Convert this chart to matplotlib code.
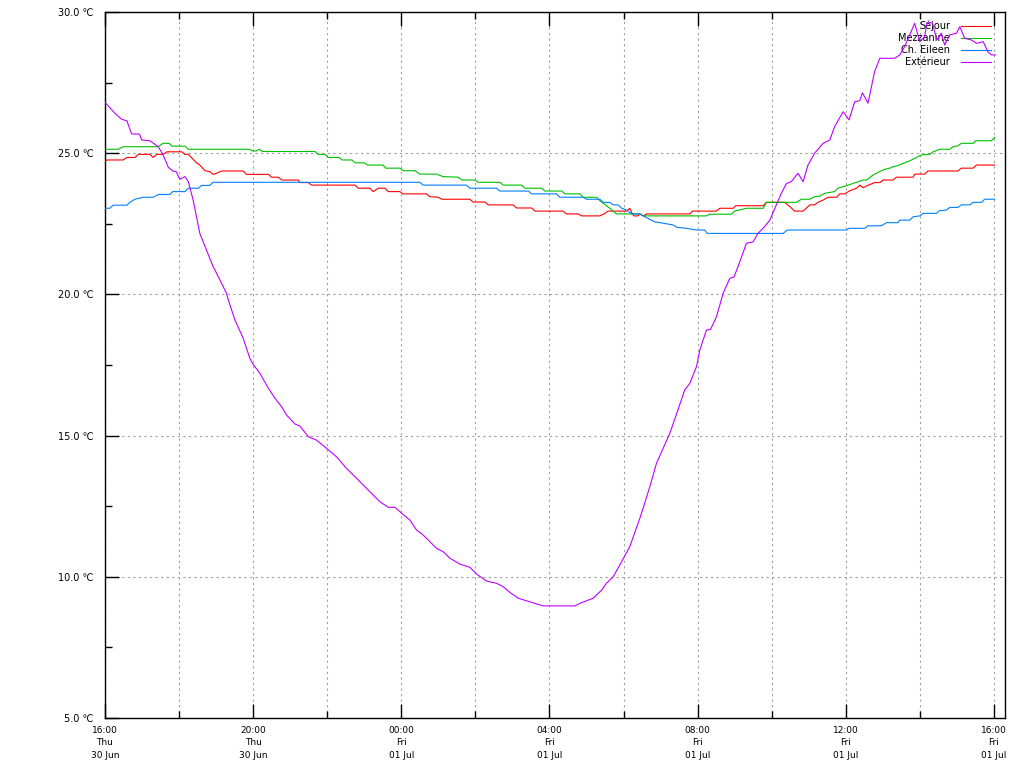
import datetime

import matplotlib
matplotlib.use("Agg")
import matplotlib.dates
import matplotlib.pyplot as plt
import matplotlib.ticker
import numpy as np

start = datetime.datetime(2022, 6, 30, 16, 0)
end = datetime.datetime(2022, 7, 1, 16, 18)

# hours since start, temperature in degC
sejour_h = [0.00, 0.05, 0.49, 0.59, 0.81, 0.90, 1.21, 1.30, 1.40, 1.57, 1.67, 2.07, 2.16, 2.25,
            2.47, 2.56, 2.70, 2.83, 2.92, 3.01, 3.15, 3.73, 3.82, 4.41, 4.50, 4.68, 4.77, 5.22,
            5.26, 5.49, 5.58, 6.75, 6.84, 7.15, 7.24, 7.38, 7.56, 7.65, 7.96, 8.05, 8.68, 8.77,
            9.00, 9.09, 9.85, 9.94, 10.26, 10.35, 11.02, 11.11, 11.52, 11.61, 12.37, 12.46, 12.77,
            12.87, 13.36, 13.50, 13.58, 14.08, 14.17, 14.24, 14.28, 14.39, 14.44, 14.53, 14.62,
            15.79, 15.86, 16.51, 16.60, 16.96, 17.03, 17.77, 17.86, 18.35, 18.49, 18.62, 18.85,
            19.03, 19.16, 19.25, 19.39, 19.52, 19.75, 19.84, 19.97, 20.11, 20.29, 20.38, 20.47,
            20.56, 20.78, 20.92, 21.01, 21.28, 21.37, 21.82, 21.86, 22.13, 22.22, 23.03, 23.12,
            23.44, 23.53, 24.02]
sejour_t = [24.70, 24.76, 24.76, 24.85, 24.85, 24.96, 24.96, 24.85, 24.96, 24.96, 25.05, 25.05,
            24.96, 24.96, 24.66, 24.58, 24.38, 24.35, 24.25, 24.29, 24.37, 24.37, 24.25, 24.25,
            24.15, 24.15, 24.05, 24.05, 23.96, 23.96, 23.87, 23.87, 23.76, 23.76, 23.64, 23.76,
            23.76, 23.64, 23.64, 23.56, 23.56, 23.46, 23.44, 23.37, 23.37, 23.27, 23.27, 23.17,
            23.17, 23.06, 23.06, 22.95, 22.95, 22.85, 22.85, 22.78, 22.78, 22.87, 22.95, 22.95,
            23.05, 22.85, 22.78, 22.78, 22.85, 22.78, 22.85, 22.85, 22.95, 22.95, 23.05, 23.05,
            23.14, 23.14, 23.26, 23.26, 23.11, 22.95, 22.95, 23.17, 23.17, 23.26, 23.34, 23.44,
            23.44, 23.56, 23.56, 23.67, 23.76, 23.87, 23.78, 23.84, 23.96, 23.96, 24.05, 24.05,
            24.15, 24.15, 24.26, 24.26, 24.37, 24.37, 24.47, 24.47, 24.58, 24.58]

mezz_h = [0.00, 0.36, 0.49, 1.43, 1.57, 1.73, 1.81, 2.16, 2.25, 3.89, 3.99, 4.09, 4.16, 4.26,
          5.67, 5.75, 5.94, 6.02, 6.32, 6.40, 6.67, 6.75, 7.00, 7.09, 7.51, 7.58, 7.96, 8.05,
          8.37, 8.50, 8.95, 9.13, 9.54, 9.63, 9.99, 10.08, 10.66, 10.75, 11.25, 11.34, 11.79,
          11.88, 12.33, 12.42, 12.82, 12.91, 13.27, 13.36, 13.45, 13.63, 13.81, 14.44, 14.53,
          16.24, 16.33, 16.91, 17.00, 17.32, 17.77, 17.86, 18.67, 18.80, 19.03, 19.16, 19.30,
          19.43, 19.70, 19.79, 20.02, 20.20, 20.47, 20.56, 20.74, 20.92, 21.05, 21.19, 21.28,
          21.41, 21.55, 21.73, 21.91, 22.04, 22.27, 22.36, 22.54, 22.81, 22.90, 23.03, 23.12,
          23.44, 23.51, 23.93, 24.02]
mezz_t = [25.14, 25.14, 25.23, 25.23, 25.35, 25.35, 25.25, 25.25, 25.14, 25.14, 25.08, 25.08,
          25.14, 25.06, 25.06, 24.96, 24.96, 24.85, 24.85, 24.76, 24.76, 24.66, 24.66, 24.58,
          24.58, 24.47, 24.47, 24.38, 24.38, 24.26, 24.26, 24.17, 24.15, 24.05, 24.05, 23.97,
          23.97, 23.87, 23.87, 23.76, 23.76, 23.66, 23.66, 23.56, 23.56, 23.44, 23.44, 23.32,
          23.23, 23.05, 22.85, 22.85, 22.78, 22.78, 22.84, 22.84, 22.95, 23.05, 23.05, 23.26,
          23.26, 23.37, 23.37, 23.46, 23.48, 23.58, 23.64, 23.76, 23.85, 23.93, 24.05, 24.05,
          24.23, 24.35, 24.43, 24.47, 24.52, 24.56, 24.64, 24.73, 24.85, 24.94, 24.96, 25.05,
          25.14, 25.14, 25.23, 25.26, 25.35, 25.35, 25.44, 25.44, 25.56]

eileen_h = [0.00, 0.13, 0.22, 0.59, 0.67, 0.81, 1.03, 1.30, 1.44, 1.75, 1.83, 2.16, 2.25, 2.52,
            2.61, 2.83, 2.92, 8.50, 8.59, 9.76, 9.85, 10.57, 10.66, 11.43, 11.52, 12.19, 12.28,
            12.91, 13.00, 13.36, 13.45, 13.63, 13.72, 13.85, 13.95, 14.08, 14.22, 14.44, 14.57,
            14.71, 14.84, 15.07, 15.34, 15.43, 15.70, 15.97, 16.19, 16.26, 18.31, 18.42, 20.02,
            20.09, 20.51, 20.60, 20.96, 21.10, 21.41, 21.46, 21.73, 21.82, 22.00, 22.09, 22.45,
            22.52, 22.72, 22.81, 23.03, 23.12, 23.35, 23.44, 23.67, 23.75, 24.02]
eileen_t = [23.05, 23.05, 23.16, 23.16, 23.26, 23.37, 23.44, 23.44, 23.54, 23.54, 23.64, 23.64,
            23.76, 23.76, 23.86, 23.86, 23.97, 23.97, 23.87, 23.87, 23.76, 23.76, 23.66, 23.66,
            23.56, 23.56, 23.44, 23.44, 23.37, 23.37, 23.26, 23.26, 23.17, 23.17, 23.05, 22.99,
            22.85, 22.85, 22.75, 22.66, 22.57, 22.52, 22.46, 22.38, 22.34, 22.28, 22.28, 22.16,
            22.16, 22.28, 22.28, 22.34, 22.34, 22.43, 22.43, 22.54, 22.54, 22.63, 22.63, 22.75,
            22.78, 22.87, 22.87, 22.96, 22.99, 23.08, 23.08, 23.17, 23.17, 23.26, 23.26, 23.37,
            23.37]

ext_h = [0.00, 0.27, 0.45, 0.59, 0.72, 0.93, 0.99, 1.21, 1.44, 1.57, 1.71, 1.83, 1.92, 2.02,
         2.16, 2.25, 2.38, 2.56, 2.74, 2.92, 2.97, 3.28, 3.33, 3.51, 3.73, 3.91, 3.99, 4.18,
         4.41, 4.59, 4.77, 4.90, 5.13, 5.26, 5.49, 5.71, 5.98, 6.25, 6.52, 6.70, 7.02, 7.42,
         7.65, 7.83, 8.01, 8.23, 8.41, 8.59, 8.95, 9.13, 9.31, 9.58, 9.85, 10.03, 10.30, 10.57,
         10.75, 10.93, 11.16, 11.38, 11.61, 11.83, 12.69, 12.82, 13.00, 13.18, 13.41, 13.54,
         13.72, 13.90, 14.17, 14.44, 14.53, 14.71, 14.89, 15.25, 15.47, 15.65, 15.79, 15.97,
         16.06, 16.24, 16.35, 16.51, 16.69, 16.87, 16.98, 17.09, 17.32, 17.50, 17.63, 17.81,
         17.95, 18.26, 18.40, 18.53, 18.71, 18.85, 18.98, 19.16, 19.39, 19.57, 19.70, 19.93,
         20.09, 20.24, 20.38, 20.45, 20.60, 20.78, 20.92, 21.32, 21.46, 21.59, 21.86, 22.00,
         22.13, 22.19, 22.34, 22.46, 22.58, 22.67, 22.81, 22.99, 23.08, 23.21, 23.39, 23.53,
         23.71, 23.84, 23.93, 24.04]
ext_t = [26.80, 26.41, 26.20, 26.15, 25.68, 25.68, 25.47, 25.44, 25.23, 24.94, 24.50, 24.37,
         24.35, 24.08, 24.17, 23.99, 23.34, 22.16, 21.57, 20.98, 20.86, 20.04, 19.80, 19.09,
         18.45, 17.74, 17.54, 17.21, 16.68, 16.32, 16.02, 15.73, 15.41, 15.34, 14.96, 14.84,
         14.55, 14.25, 13.84, 13.61, 13.19, 12.66, 12.46, 12.46, 12.25, 12.01, 11.66, 11.48,
         11.01, 10.89, 10.66, 10.45, 10.34, 10.10, 9.85, 9.77, 9.65, 9.45, 9.24, 9.15, 9.06,
         8.97, 8.97, 9.06, 9.15, 9.24, 9.53, 9.77, 10.00, 10.42, 11.07, 12.07, 12.43, 13.19,
         14.02, 15.08, 15.91, 16.61, 16.85, 17.44, 18.03, 18.74, 18.76, 19.21, 20.04, 20.57,
         20.61, 20.98, 21.81, 21.86, 22.16, 22.40, 22.63, 23.58, 23.93, 23.99, 24.29, 23.99,
         24.58, 25.00, 25.35, 25.47, 25.94, 26.47, 26.18, 26.82, 26.86, 27.14, 26.77, 27.89,
         28.36, 28.36, 28.48, 28.77, 29.60, 28.95, 29.13, 29.62, 29.62, 29.01, 29.25, 28.83,
         29.19, 29.25, 29.48, 29.07, 29.01, 28.89, 28.95, 28.59, 28.48, 28.48]

series = [
    ("Séjour", sejour_h, sejour_t, "#ff0000"),
    ("Mezzanine", mezz_h, mezz_t, "#00c000"),
    ("Ch. Eileen", eileen_h, eileen_t, "#0080ff"),
    ("Extérieur", ext_h, ext_t, "#c000ff"),
]


def to_times(hours):
    return [start + datetime.timedelta(hours=h) for h in hours]


fig = plt.figure(figsize=(10.24, 7.68), dpi=100)
ax = fig.add_axes([105 / 1024, 50 / 768, 900 / 1024, 706 / 768])

for name, hours, temps, color in series:
    ax.plot(to_times(hours), temps, color=color, linewidth=0.8, label=name, zorder=3)

ax.set_xlim(start, end)
ax.set_ylim(5, 30)

ax.xaxis.set_major_locator(matplotlib.dates.HourLocator(byhour=range(0, 24, 4)))
ax.xaxis.set_minor_locator(matplotlib.dates.HourLocator(byhour=range(2, 24, 4)))
ax.xaxis.set_major_formatter(matplotlib.dates.DateFormatter("%H:%M\n%a\n%d %b"))
ax.yaxis.set_major_locator(matplotlib.ticker.MultipleLocator(5))
ax.yaxis.set_minor_locator(matplotlib.ticker.MultipleLocator(2.5))
ax.yaxis.set_major_formatter(matplotlib.ticker.FormatStrFormatter("%.1f \u2103"))

ax.tick_params(axis="x", which="both", direction="in", top=True, bottom=True,
               labelsize=6.5, pad=6, color="black")
ax.tick_params(axis="y", which="both", direction="in", left=True, right=False,
               labelsize=7, pad=8)
ax.tick_params(which="major", length=10, width=1)
ax.tick_params(which="minor", length=5, width=1)
for lbl in ax.get_xticklabels():
    lbl.set_linespacing(1.45)

# gnuplot style dotted grid
ax.set_axisbelow(True)
grid_style = dict(color="#a0a0a0", linestyle=(0, (2, 3)), linewidth=0.8)
ax.xaxis.grid(True, which="both", **grid_style)
ax.yaxis.grid(True, which="major", **grid_style)

for sp in ax.spines.values():
    sp.set_linewidth(1.0)

leg = ax.legend(loc="upper right", bbox_to_anchor=(0.994, 1.0), frameon=False,
                markerfirst=False, fontsize=7, handlelength=3.1, handletextpad=1.1,
                labelspacing=0.2, borderaxespad=0.6, borderpad=0.3)
leg.set_zorder(1)
for t in leg.get_texts():
    t.set_ha("right")

fig.savefig("out.png", dpi=100)
